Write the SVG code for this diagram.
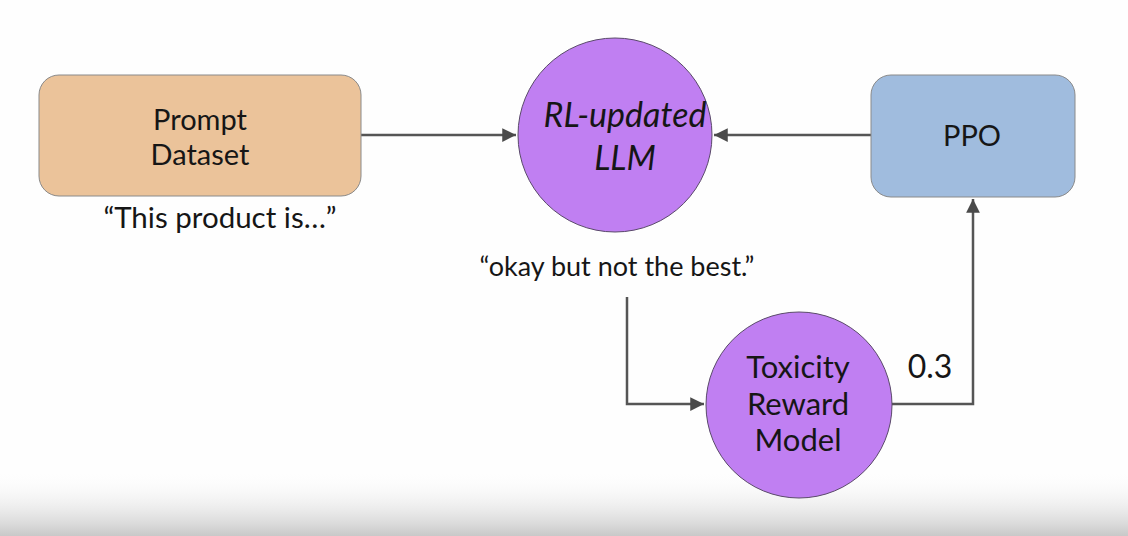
<svg xmlns="http://www.w3.org/2000/svg" width="1128" height="536" viewBox="0 0 1128 536">
<defs>
<linearGradient id="bg" x1="0" y1="0" x2="0" y2="1">
<stop offset="0" stop-color="#ffffff" stop-opacity="0"/>
<stop offset="1" stop-color="#c8c8c8"/>
</linearGradient>
<marker id="ah" viewBox="0 0 10 10" refX="10" refY="5" markerWidth="5.5" markerHeight="5.5" orient="auto">
<path d="M0,0 L10,5 L0,10 z" fill="#4a4a4a"/>
</marker>
<style>
text{font-family:Lato,"Open Sans","Liberation Sans",sans-serif;fill:#161616;text-anchor:middle}
.lbl{font-size:29px}
.conn{fill:none;stroke:#555;stroke-width:2.5;marker-end:url(#ah)}
</style>
</defs>
<rect width="1128" height="536" fill="#fefefe"/>
<rect x="0" y="470" width="1128" height="66" fill="url(#bg)"/>
<g id="connectors">
<path class="conn" d="M361,135 H516"/>
<path class="conn" d="M871,135 H714"/>
<path class="conn" d="M627,297 V404 H704"/>
<path class="conn" d="M892,404 H973 V199"/>
</g>
<g id="prompt">
<rect x="39" y="75" width="322" height="121" rx="20" fill="#ebc39a" stroke="#8a8a8a" stroke-width="1"/>
<text class="lbl" x="200" y="130">Prompt</text>
<text class="lbl" x="200" y="165">Dataset</text>
<text x="220" y="228" font-size="29.5">“This product is…”</text>
</g>
<g id="llm">
<circle cx="615" cy="135" r="97" fill="#c07ff2" stroke="#5a4a6a" stroke-width="1"/>
<text x="625" y="127" font-size="34" font-style="italic">RL-updated</text>
<text x="625" y="170" font-size="34" font-style="italic">LLM</text>
<text x="617" y="276" font-size="27">“okay but not the best.”</text>
</g>
<g id="ppo">
<rect x="871" y="75" width="204" height="122" rx="20" fill="#a0bcde" stroke="#8a8a8a" stroke-width="1"/>
<text class="lbl" x="972" y="146">PPO</text>
</g>
<g id="toxicity">
<circle cx="799" cy="405" r="93" fill="#c07ff2" stroke="#5a4a6a" stroke-width="1"/>
<text x="798" y="378" font-size="31">Toxicity</text>
<text x="798" y="415" font-size="31">Reward</text>
<text x="798" y="451" font-size="31">Model</text>
</g>
<text x="930" y="378" font-size="32">0.3</text>
</svg>
